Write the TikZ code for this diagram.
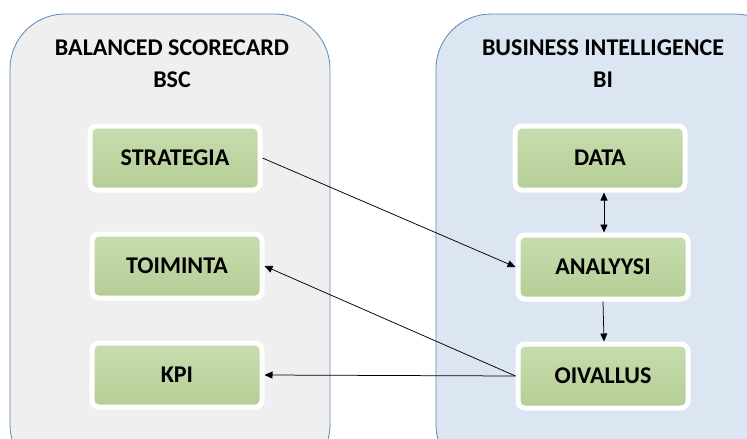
\documentclass[tikz,border=0pt]{standalone}
\usepackage{fontspec}
\setmainfont{Carlito}
\usetikzlibrary{arrows.meta,shadows}
\definecolor{panelgrey}{HTML}{EFEFEF}
\definecolor{panelblue}{HTML}{DCE6F2}
\definecolor{panelline}{HTML}{5A87B5}
\definecolor{boxtop}{HTML}{C8DDAE}
\definecolor{boxbot}{HTML}{B5CD96}
\tikzset{
  x=1pt, y=-1pt,
  panel/.style={draw=panelline, line width=0.8pt, rounded corners=55pt},
  title/.style={font=\bfseries\fontsize{24}{32}\selectfont, align=center, text=black},
  stepbox/.style={rounded corners=7pt, minimum width=170pt, minimum height=64pt,
    draw=white, line width=5pt, top color=boxtop, bottom color=boxbot,
    drop shadow={shadow xshift=0pt, shadow yshift=-1.5pt, opacity=0.25},
    font=\bfseries\fontsize{24}{28}\selectfont, text=black},
  tip/.style={Triangle[length=8pt,width=7pt]},
  link/.style={-{Triangle[length=8pt,width=7pt]}, line width=0.75pt, draw=black},
}
\begin{document}
\begin{tikzpicture}
\useasboundingbox (0,0) rectangle (747,439);
\begin{scope}
\clip (0,0) rectangle (747,439);
\draw[panel, fill=panelgrey] (10,14) rectangle (330,480);
\draw[panel, fill=panelblue] (436,14) rectangle (790,480);
\end{scope}

\node[title] (bsc) at (172,64) {BALANCED SCORECARD\\BSC};
\node[title] (bi) at (603,64) {BUSINESS INTELLIGENCE\\BI};

\node[stepbox] (strategia) at (175,158) {STRATEGIA};
\node[stepbox] (toiminta) at (177,266) {TOIMINTA};
\node[stepbox] (kpi) at (177,375) {KPI};
\node[stepbox] (data) at (600,158) {DATA};
\node[stepbox] (analyysi) at (603,267) {ANALYYSI};
\node[stepbox] (oivallus) at (603,376) {OIVALLUS};

\draw[link, {Triangle[length=8pt,width=7pt]}-{Triangle[length=8pt,width=7pt]}] (data.south -| 604,0) -- (analyysi.north -| 604,0);
\draw[link] (strategia.east) -- (analyysi.west);
\draw[link] (analyysi.south -| 603,0) -- (oivallus.north -| 604,0);
\draw[link] (oivallus.west) -- (toiminta.east);
\draw[link] (oivallus.west) -- (kpi.east);
\end{tikzpicture}
\end{document}
